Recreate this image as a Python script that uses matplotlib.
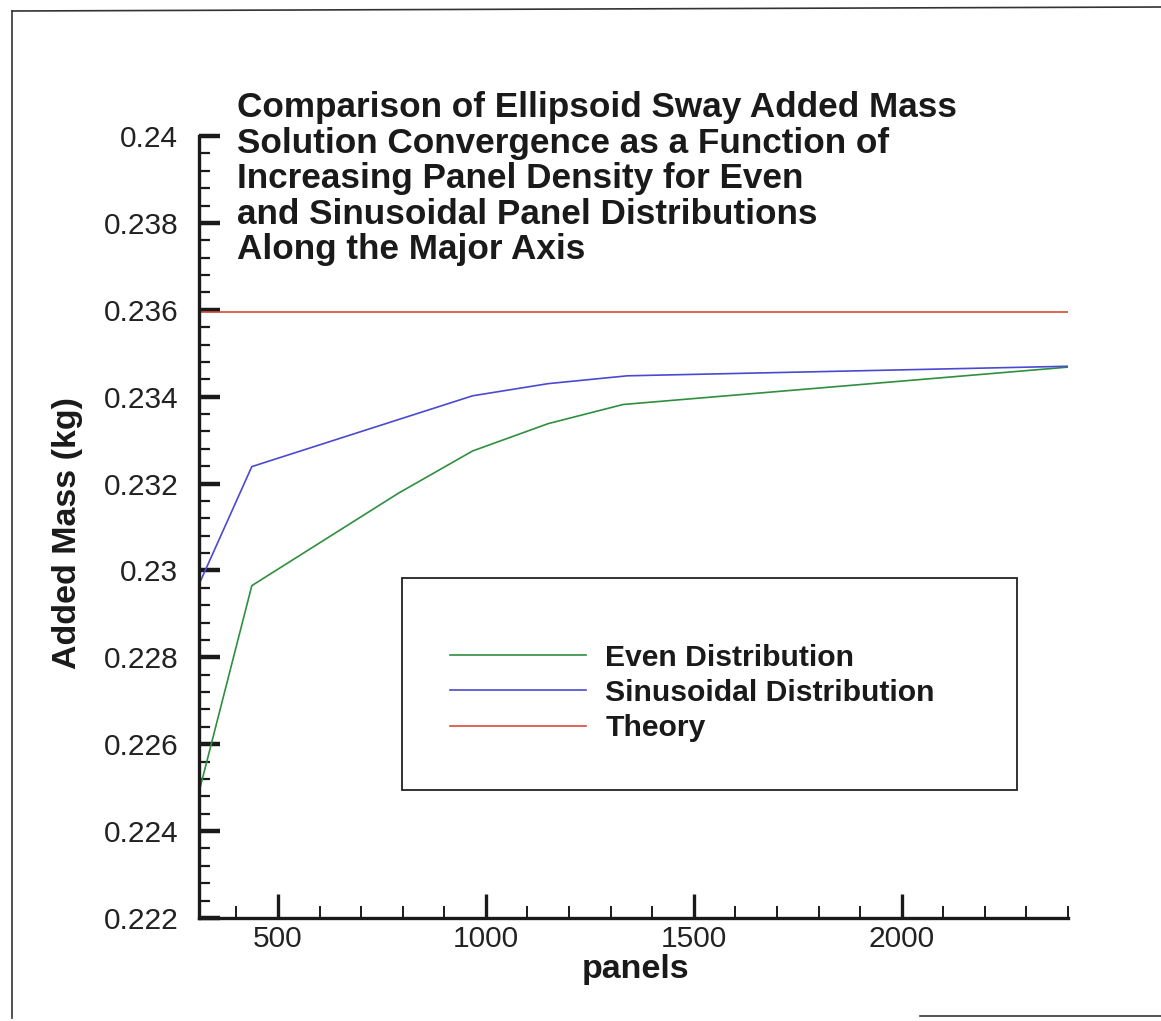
import matplotlib
matplotlib.use("Agg")
import matplotlib.pyplot as plt
from matplotlib.ticker import MultipleLocator, FuncFormatter
from matplotlib.lines import Line2D

plt.rcParams['font.family'] = ['Liberation Sans', 'DejaVu Sans']

# ---- data ----
x_even = [310, 437, 790, 968, 1150, 1330, 2400]
y_even = [0.2249, 0.22965, 0.23178, 0.23275, 0.23338, 0.23382, 0.23468]
x_sin = [310, 437, 968, 1150, 1340, 2400]
y_sin = [0.22968, 0.23239, 0.23402, 0.23430, 0.23448, 0.23470]
x_theory = [310, 2400]
y_theory = [0.23594, 0.23594]
labels = ["Even Distribution", "Sinusoidal Distribution", "Theory"]
title = ("Comparison of Ellipsoid Sway Added Mass\n"
         "Solution Convergence as a Function of\n"
         "Increasing Panel Density for Even\n"
         "and Sinusoidal Panel Distributions\n"
         "Along the Major Axis")
xticks = [500, 1000, 1500, 2000]

W, H = 1161, 1021
fig = plt.figure(figsize=(W / 100, H / 100), dpi=100)
ax = fig.add_axes([199 / W, 1 - 918 / H, (1068 - 199) / W, (918 - 136) / H])

c_even = '#2f8f3f'
c_sin = '#4a4ad0'
c_th = '#d84a3a'
ax.plot(x_even, y_even, color=c_even, lw=1.2, solid_joinstyle='miter')
ax.plot(x_sin, y_sin, color=c_sin, lw=1.2, solid_joinstyle='miter')
ax.plot(x_theory, y_theory, color=c_th, lw=1.2)

ax.set_xlim(310, 2400)
ax.set_ylim(0.222, 0.24)
for s in ['top', 'right']:
    ax.spines[s].set_visible(False)
for s in ['left', 'bottom']:
    ax.spines[s].set_linewidth(2.4)
    ax.spines[s].set_color('#1a1a1a')

ax.xaxis.set_major_locator(MultipleLocator(500))
ax.xaxis.set_minor_locator(MultipleLocator(100))
ax.yaxis.set_major_locator(MultipleLocator(0.002))
ax.yaxis.set_minor_locator(MultipleLocator(0.0004))
ax.yaxis.set_major_formatter(FuncFormatter(lambda v, p: ('%.3f' % v).rstrip('0')))
ax.xaxis.set_major_formatter(FuncFormatter(lambda v, p: '%d' % v))

ax.tick_params(axis='y', which='major', direction='in', length=15, width=3.2,
               labelsize=21.5, pad=15, color='#1a1a1a', labelcolor='#222222')
ax.tick_params(axis='y', which='minor', direction='in', length=8, width=1.6, color='#1a1a1a')
ax.tick_params(axis='x', which='major', direction='in', length=17, width=2.4,
               labelsize=21.5, pad=5, color='#1a1a1a', labelcolor='#222222')
ax.tick_params(axis='x', which='minor', direction='in', length=9, width=1.4, color='#1a1a1a')

# title block
fig.text(237 / W, 1 - 91 / H, title, ha='left', va='top', fontsize=25.3,
         fontweight='bold', linespacing=1.1, color='#1a1a1a')

# axis labels
fig.text(68 / W, 1 - 533 / H, "Added Mass (kg)", rotation=90, ha='center', va='center',
         fontsize=24.5, fontweight='bold', color='#1a1a1a')
fig.text(636 / W, 1 - 969 / H, "panels", ha='center', va='center',
         fontsize=24.5, fontweight='bold', color='#1a1a1a')

# legend
handles = [Line2D([], [], color=c_even, lw=1.2),
           Line2D([], [], color=c_sin, lw=1.2),
           Line2D([], [], color=c_th, lw=1.2)]
leg = fig.legend(handles, labels, loc='center left',
                 bbox_to_anchor=(450 / W, 1 - 693 / H), bbox_transform=fig.transFigure,
                 frameon=False, handlelength=4.5, handletextpad=0.65, labelspacing=0.24,
                 borderpad=0, borderaxespad=0,
                 prop={'size': 21.7, 'weight': 'bold'})
for t in leg.get_texts():
    t.set_color('#1a1a1a')
fig.patches.append(plt.Rectangle((402 / W, 1 - 790 / H), (1017 - 402) / W, (790 - 578) / H,
                                 transform=fig.transFigure, fill=False, ec='#222222', lw=1.3))

# outer scan frame
fig.add_artist(Line2D([12 / W, 12 / W], [1 - 1018 / H, 1 - 11 / H], transform=fig.transFigure,
                      color='#333333', lw=1.2))
fig.add_artist(Line2D([12 / W, 1], [1 - 11 / H, 1 - 7 / H], transform=fig.transFigure,
                      color='#333333', lw=1.2))
fig.add_artist(Line2D([920 / W, 1], [1 - 1016 / H, 1 - 1016 / H], transform=fig.transFigure,
                      color='#333333', lw=1.2))

fig.savefig('out.png', dpi=100, facecolor='white')
